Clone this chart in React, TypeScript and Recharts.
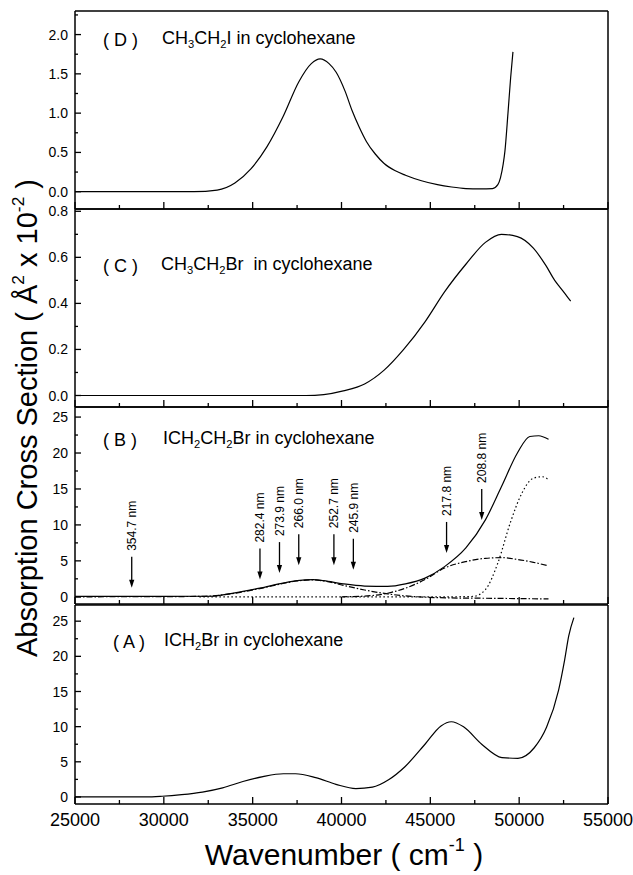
import React from "react";
import { ComposedChart, Line, XAxis, YAxis, Scatter } from "recharts";

const FONT = "'Liberation Sans', Arial, sans-serif";

const xDomain = [25000, 55000];
const xMajorTicks = [25000, 30000, 35000, 40000, 45000, 50000, 55000];
const xMinorTicks = [27500, 32500, 37500, 42500, 47500, 52500];

// (D) CH3CH2I in cyclohexane
const dWave = [25000, 30000, 31700, 33000, 34000, 34900, 35800, 36700, 37600, 38300, 38800, 39300, 39700, 40200, 40600, 41000, 41400, 41900, 42400, 43000, 43600, 44500, 45400, 46200, 47000, 47800, 48500, 48800, 48950, 49100, 49200, 49370, 49520, 49650];
const dCross = [0, 0, 0, 0.02, 0.11, 0.29, 0.57, 0.95, 1.4, 1.63, 1.69, 1.63, 1.52, 1.28, 1.03, 0.82, 0.64, 0.48, 0.36, 0.27, 0.21, 0.14, 0.09, 0.06, 0.04, 0.035, 0.04, 0.09, 0.18, 0.35, 0.52, 1.0, 1.45, 1.78];

// (C) CH3CH2Br in cyclohexane
const cWave = [25000, 30000, 35000, 38000, 39000, 40100, 41300, 42400, 43500, 44700, 45800, 47000, 48100, 49000, 49900, 50800, 51500, 52000, 52300, 52600, 52900];
const cCross = [0, 0, 0, 0, 0.004, 0.02, 0.05, 0.11, 0.2, 0.32, 0.45, 0.57, 0.665, 0.7, 0.69, 0.64, 0.565, 0.5, 0.47, 0.44, 0.41];

// (B) ICH2CH2Br in cyclohexane: total spectrum and fitted bands
const bWave = [25000, 30000, 32600, 34000, 35400, 36700, 37500, 38400, 39000, 40100, 41300, 42600, 43600, 44700, 45800, 47000, 48100, 49000, 49900, 50600, 51100, 51650];
const bCross = [0.05, 0.05, 0.08, 0.55, 1.2, 1.9, 2.25, 2.4, 2.25, 1.8, 1.5, 1.45, 1.8, 2.6, 4.2, 6.8, 10.7, 15.3, 20.0, 22.3, 22.4, 21.9];
const bLowWave = [25000, 32000, 34000, 35400, 36700, 37500, 38400, 39000, 40100, 41300, 42600, 43600, 44700, 46000, 48000, 50000, 51650];
const bLowCross = [0, 0.05, 0.5, 1.15, 1.85, 2.2, 2.35, 2.2, 1.6, 0.95, 0.4, 0.12, -0.05, -0.15, -0.2, -0.25, -0.3];
const bMidWave = [40000, 41300, 42600, 43600, 44700, 45800, 47000, 48100, 49000, 49900, 50800, 51650];
const bMidCross = [0, 0.1, 0.5, 1.2, 2.4, 4.0, 4.9, 5.35, 5.45, 5.2, 4.8, 4.3];
const bHighWave = [32000, 40000, 46000, 47400, 48100, 48800, 49500, 50150, 50800, 51300, 51650];
const bHighCross = [0, 0, 0, 0.05, 1.0, 4.7, 10.3, 14.4, 16.5, 16.7, 16.3];

// marked wavelengths (nm) and arrow tip heights
const arrowNm = [354.7, 282.4, 273.9, 266.0, 252.7, 245.9, 217.8, 208.8];
const arrowTip = [1.25, 2.4, 3.3, 4.4, 4.4, 3.75, 6.1, 10.7];

// (A) ICH2Br in cyclohexane
const aWave = [25000, 29000, 29900, 31000, 32170, 33310, 34450, 35580, 36730, 37410, 38550, 39690, 40810, 41740, 42650, 43570, 44700, 45600, 46180, 46870, 47890, 49030, 49930, 50850, 51540, 52220, 52560, 52790, 53080];
const aCross = [0, 0, 0.1, 0.33, 0.7, 1.3, 2.2, 2.9, 3.3, 3.3, 2.75, 1.8, 1.2, 1.4, 2.45, 4.3, 7.5, 10.1, 10.7, 9.97, 7.5, 5.6, 5.5, 7.0, 9.9, 15.2, 19.5, 22.9, 25.5];

const pts = (xs: number[], ys: number[]) => xs.map((x, i) => ({ x, y: ys[i] }));

const arrowData = arrowNm.map((nm, i) => ({
  x: 1e7 / nm,
  y: arrowTip[i],
  label: `${nm.toFixed(1)} nm`,
}));

const ArrowMark = (props: any) => {
  const { cx, cy, payload } = props;
  if (cx == null || cy == null) return null;
  const len = 31;
  const ty = cy - len - 6;
  return (
    <g>
      <line x1={cx} y1={cy - len} x2={cx} y2={cy - 6} stroke="#000" strokeWidth={1.3} />
      <path d={`M${cx - 2.6},${cy - 8} L${cx + 2.6},${cy - 8} L${cx},${cy} Z`} fill="#000" />
      <text
        x={cx}
        y={ty}
        dy="0.36em"
        transform={`rotate(-90 ${cx} ${ty})`}
        textAnchor="start"
        fontSize={12}
        fontFamily={FONT}
        fill="#000"
      >
        {payload.label}
      </text>
    </g>
  );
};

// inward tick marks with labels outside for major ticks
const YTick = (props: any) => {
  const { x, y, payload, majors, digits } = props;
  const major = majors.includes(payload.value);
  return (
    <g>
      <line x1={x} y1={y} x2={x + (major ? 6 : 3)} y2={y} stroke="#000" strokeWidth={1.3} />
      {major && (
        <text x={x - 7} y={y} dy="0.36em" textAnchor="end" fontSize={14} fontFamily={FONT} fill="#000">
          {payload.value.toFixed(digits)}
        </text>
      )}
    </g>
  );
};

const XTick = (props: any) => {
  const { x, y, payload, labels } = props;
  const major = xMajorTicks.includes(payload.value);
  return (
    <g>
      <line x1={x} y1={y} x2={x} y2={y - (major ? 7 : 4)} stroke="#000" strokeWidth={1.3} />
      {major && labels && (
        <text x={x} y={y + 8} dy="0.8em" textAnchor="middle" fontSize={18} fontFamily={FONT} fill="#000">
          {payload.value}
        </text>
      )}
    </g>
  );
};

type Series = { data: { x: number; y: number }[]; dash?: string };

interface PanelProps {
  top: number;
  height: number;
  domain: number[];
  majorTicks: number[];
  minorTicks: number[];
  digits: number;
  series: Series[];
  xLabels?: boolean;
  arrows?: boolean;
}

const Panel = ({ top, height, domain, majorTicks, minorTicks, digits, series, xLabels, arrows }: PanelProps) => {
  const xh = xLabels ? 40 : 1;
  const yTicks = [...majorTicks, ...minorTicks].sort((a, b) => a - b);
  const xTicks = [...xMajorTicks, ...xMinorTicks].sort((a, b) => a - b);
  return (
    <div style={{ position: "absolute", left: 0, top: top - 2 }}>
      <ComposedChart
        width={633}
        height={height + 3 + xh}
        margin={{ top: 1, right: 24, bottom: 1, left: 15 }}
      >
        <XAxis
          xAxisId="lab"
          dataKey="x"
          type="number"
          domain={xDomain}
          ticks={xTicks}
          interval={0}
          allowDataOverflow
          height={xh}
          tickLine={false}
          tickSize={0}
          tickMargin={0}
          tick={(p: any) => <XTick {...p} labels={xLabels} />}
          axisLine={{ stroke: "#000", strokeWidth: 1.5 }}
        />
        <XAxis xAxisId="top" orientation="top" type="number" domain={xDomain} allowDataOverflow
          height={1} tick={false} tickLine={false} axisLine={{ stroke: "#000", strokeWidth: 1.5 }} />

        <YAxis
          yAxisId="lab"
          dataKey="y"
          type="number"
          domain={domain}
          ticks={yTicks}
          interval={0}
          allowDataOverflow
          width={60}
          tickLine={false}
          tickSize={0}
          tickMargin={0}
          tick={(p: any) => <YTick {...p} majors={majorTicks} digits={digits} />}
          axisLine={{ stroke: "#000", strokeWidth: 1.5 }}
        />
        <YAxis yAxisId="right" orientation="right" type="number" domain={domain} allowDataOverflow
          width={1} tick={false} tickLine={false} axisLine={{ stroke: "#000", strokeWidth: 1.5 }} />

        {series.map((s, i) => (
          <Line
            key={i}
            xAxisId="lab"
            yAxisId="lab"
            data={s.data}
            dataKey="y"
            type="monotone"
            stroke="#000"
            strokeWidth={1.2}
            strokeDasharray={s.dash}
            dot={false}
            activeDot={false}
            isAnimationActive={false}
          />
        ))}
        {arrows && (
          <Scatter
            xAxisId="lab"
            yAxisId="lab"
            data={arrowData}
            shape={ArrowMark}
            isAnimationActive={false}
          />
        )}
      </ComposedChart>
    </div>
  );
};

const sub = (t: string) => (
  <span style={{ fontSize: "0.62em", verticalAlign: "-0.35em" }}>{t}</span>
);
const sup = (t: string) => (
  <span style={{ fontSize: "0.6em", verticalAlign: "0.75em" }}>{t}</span>
);

const titleStyle = (left: number, cy: number): React.CSSProperties => ({
  position: "absolute",
  left,
  top: cy,
  transform: "translateY(-50%)",
  fontSize: 18,
  fontFamily: FONT,
  whiteSpace: "nowrap",
  lineHeight: 1,
});

export default function App() {
  return (
    <div style={{ position: "absolute", left: 0, top: 0, width: 633, height: 875, background: "#fff", fontFamily: FONT }}>
      <style>{`.recharts-surface { overflow: visible; } .recharts-wrapper { overflow: visible; }`}</style>
      <Panel top={11} height={198} domain={[-0.22, 2.3]} majorTicks={[0, 0.5, 1, 1.5, 2]}
        minorTicks={[0.25, 0.75, 1.25, 1.75, 2.25]} digits={1}
        series={[{ data: pts(dWave, dCross) }]} />
      <Panel top={209} height={198} domain={[-0.05, 0.81]} majorTicks={[0, 0.2, 0.4, 0.6, 0.8]}
        minorTicks={[0.1, 0.3, 0.5, 0.7]} digits={1}
        series={[{ data: pts(cWave, cCross) }]} />
      <Panel top={407} height={197} domain={[-1, 26.4]} majorTicks={[0, 5, 10, 15, 20, 25]}
        minorTicks={[2.5, 7.5, 12.5, 17.5, 22.5]} digits={0} arrows
        series={[
          { data: pts(bWave, bCross) },
          { data: pts(bLowWave, bLowCross), dash: "6 2 1.5 2" },
          { data: pts(bMidWave, bMidCross), dash: "6 2 1.5 2" },
          { data: pts(bHighWave, bHighCross), dash: "1.5 2.5" },
        ]} />
      <Panel top={605} height={199} domain={[-1, 27.3]} majorTicks={[0, 5, 10, 15, 20, 25]}
        minorTicks={[2.5, 7.5, 12.5, 17.5, 22.5]} digits={0} xLabels
        series={[{ data: pts(aWave, aCross) }]} />

      <div style={titleStyle(103, 40)}>( D )</div>
      <div style={titleStyle(162, 40)}>CH{sub("3")}CH{sub("2")}I in cyclohexane</div>
      <div style={titleStyle(103, 266)}>( C )</div>
      <div style={titleStyle(161, 266)}>CH{sub("3")}CH{sub("2")}Br &nbsp;in cyclohexane</div>
      <div style={titleStyle(103, 440)}>( B )</div>
      <div style={titleStyle(163, 440)}>ICH{sub("2")}CH{sub("2")}Br in cyclohexane</div>
      <div style={titleStyle(113, 642)}>( A )</div>
      <div style={titleStyle(164, 642)}>ICH{sub("2")}Br in cyclohexane</div>

      <div
        style={{
          position: "absolute",
          left: 26,
          top: 418,
          transform: "translate(-50%, -50%) rotate(-90deg)",
          fontSize: 29,
          whiteSpace: "nowrap",
          lineHeight: 1,
        }}
      >
        Absorption Cross Section ( Å{sup("2")} x 10{sup("-2")} )
      </div>
      <div
        style={{
          position: "absolute",
          left: 344,
          top: 853,
          transform: "translate(-50%, -50%)",
          fontSize: 30,
          whiteSpace: "nowrap",
          lineHeight: 1,
        }}
      >
        Wavenumber ( cm{sup("-1")} )
      </div>
    </div>
  );
}
